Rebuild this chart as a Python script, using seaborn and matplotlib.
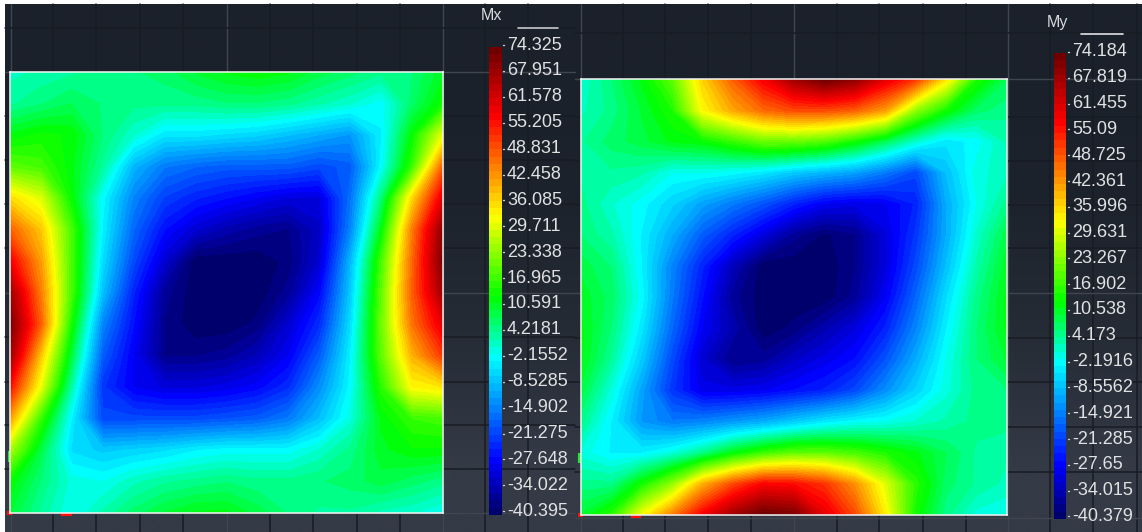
import numpy as np
import matplotlib
matplotlib.use('Agg')
import matplotlib.pyplot as plt
from matplotlib.colors import BoundaryNorm, LinearSegmentedColormap
import seaborn as sns

mx_labels = ['74.325', '67.951', '61.578', '55.205', '48.831', '42.458', '36.085', '29.711', '23.338', '16.965',
             '10.591', '4.2181', '-2.1552', '-8.5285', '-14.902', '-21.275', '-27.648', '-34.022', '-40.395']
my_labels = ['74.184', '67.819', '61.455', '55.09', '48.725', '42.361', '35.996', '29.631', '23.267', '16.902',
             '10.538', '4.173', '-2.1916', '-8.5562', '-14.921', '-21.285', '-27.65', '-34.015', '-40.379']

# field values, rows from top to bottom
mx_values = [
    [2, 3, 4, 5, 6, 7, 10, 12, 13, 12, 9, 7, 5, 6, 11],
    [4, 6, 8, 6, 5, 5, 5, 6, 6, 5, 3, 1, -2, 7, 14],
    [12, 14, 13, 6, 1, -4, -4, -5, -6, -8, -10, -12, -3, 13, 31],
    [20, 18, 12, 4, -9, -15, -17, -18, -18, -18, -20, -18, -2, 17, 48],
    [36, 30, 13, -2, -14, -21, -24, -26, -28, -30, -30, -16, 6, 36, 60],
    [48, 38, 18, -3, -17, -26, -31, -34, -36, -37, -32, -14, 12, 45, 70],
    [58, 42, 18, -5, -20, -31, -40, -40, -40, -38, -31, -9, 18, 47, 72],
    [68, 45, 18, -8, -24, -36, -40, -40, -40, -36, -27, -7, 20, 48, 68],
    [72, 48, 14, -14, -26, -37, -40, -40, -38, -31, -23, -5, 21, 46, 60],
    [68, 38, 9, -18, -28, -37, -37, -36, -33, -28, -18, -3, 20, 40, 52],
    [56, 31, 3, -22, -28, -30, -30, -29, -27, -23, -13, -2, 16, 33, 35],
    [42, 17, -3, -20, -20, -20, -20, -19, -18, -15, -8, 0, 12, 17, 18],
    [26, 9, -5, -7, -6, -5, -3, -2, -2, -2, 1, 5, 11, 13, 13],
    [13, 6, 0, -1, 2, 4, 5, 6, 5, 5, 6, 7, 9, 7, 5],
    [10, 4, -1, 3, 7, 10, 12, 12, 9, 6, 4, 4, 2, 1, -1],
]
my_values = [
    [1, 6, 12, 20, 37, 48, 58, 68, 74, 70, 60, 52, 35, 15, 8],
    [2, 5, 10, 15, 33, 41, 47, 50, 50, 48, 42, 24, 14, 7, 5],
    [4, 7, 9, 12, 13, 17, 21, 21, 19, 14, 8, 1, -4, -2, 3],
    [4, 4, 3, -1, -1, -2, -4, -7, -9, -11, -15, -20, -8, 0, 2],
    [5, 1, -2, -6, -11, -15, -19, -24, -28, -29, -28, -24, -10, -1, 5],
    [6, 3, -3, -10, -18, -24, -30, -36, -39, -37, -30, -22, -10, 1, 9],
    [9, 6, -3, -14, -24, -33, -40, -40, -40, -37, -30, -20, -8, 3, 11],
    [11, 7, -2, -15, -26, -36, -40, -40, -40, -36, -28, -17, -5, 5, 12],
    [12, 6, -4, -17, -28, -34, -40, -38, -34, -30, -24, -14, -3, 6, 12],
    [12, 4, -7, -20, -31, -37, -36, -32, -29, -26, -19, -10, -1, 6, 10],
    [9, 0, -11, -22, -29, -29, -28, -26, -24, -20, -13, -6, 0, 5, 6],
    [5, -3, -12, -15, -14, -12, -10, -7, -4, -2, -1, 1, 3, 5, 5],
    [0, -3, -3, 0, 5, 12, 17, 20, 20, 18, 15, 12, 8, 4, 3],
    [5, 5, 14, 24, 40, 50, 57, 56, 52, 43, 30, 16, 7, 4, 2],
    [10, 16, 32, 45, 58, 68, 74, 72, 60, 50, 34, 14, 5, 0, -1],
]

W, H = 1142, 532
N_BANDS = 64
sns.set_theme(style='white')
plt.rcParams['font.family'] = ['Liberation Sans', 'DejaVu Sans']
cmap = LinearSegmentedColormap.from_list('viewer', [
    (0.0, '#00006c'), (0.11, '#0000ff'), (0.335, '#00ffff'), (0.465, '#00ff00'),
    (0.64, '#ffff00'), (0.855, '#ff0000'), (1.0, '#700000')]).resampled(N_BANDS)


def px_axes(fig, x0, y0, x1, y1):
    # axes from picture pixels (y measured from the top)
    return fig.add_axes([x0 / W, 1 - y1 / H, (x1 - x0) / W, (y1 - y0) / H])


def draw_field(fig, values, box, vmin, vmax):
    ax = px_axes(fig, *box)
    levels = np.linspace(vmin, vmax, N_BANDS + 1)
    arr = np.array(values)[::-1]
    ax.contourf(arr, levels=levels, cmap=cmap, norm=BoundaryNorm(levels, N_BANDS), extend='both')
    ax.set_xticks([])
    ax.set_yticks([])
    for s in ax.spines.values():
        s.set_color('#f4f4f4')
        s.set_linewidth(1.1)
    return ax


def draw_bar(fig, box, vmin, vmax):
    ax = px_axes(fig, *box)
    strip = np.linspace(vmax, vmin, N_BANDS).reshape(-1, 1)
    sns.heatmap(strip, ax=ax, cmap=cmap, vmin=vmin, vmax=vmax, cbar=False, xticklabels=False, yticklabels=False)
    return ax


fig = plt.figure(figsize=(W / 100, H / 100), dpi=100, facecolor='white')

bg = fig.add_axes([0, 0, 1, 1])
shade = np.array([[0x1b, 0x21, 0x2b], [0x1d, 0x23, 0x2d], [0x26, 0x2c, 0x36], [0x34, 0x3a, 0x46]]) / 255
bg.imshow(shade[:, None, :], extent=[5, W, H, 4], aspect='auto', interpolation='bilinear', zorder=0)
bg.set_xlim(0, W)
bg.set_ylim(H, 0)
bg.axis('off')

# dark minor grid and the few lighter major lines of the viewer
for x in [53, 96, 140, 183, 270, 313, 357, 400, 485, 528, 623, 665, 708, 751, 837, 879, 923, 966, 1050, 1093, 1137]:
    bg.plot([x, x], [4, H], color='#171c24', lw=1.1, zorder=1)
for x in [11, 227, 443, 581, 794, 1008]:
    bg.plot([x, x], [4, H], color='#40464f', lw=1, zorder=1)
for y in [28, 116, 160, 204, 248, 337, 382, 425, 469]:
    bg.plot([5, 575], [y, y], color='#171c24', lw=1.1, zorder=1)
for y in [33, 117, 161, 205, 248, 338, 382, 427, 472]:
    bg.plot([575, W], [y, y], color='#171c24', lw=1.1, zorder=1)
for y in [72, 293, 513]:
    bg.plot([5, 575], [y, y], color='#40464f', lw=1, zorder=1)
for y in [79, 293, 518]:
    bg.plot([575, W], [y, y], color='#40464f', lw=1, zorder=1)

draw_field(fig, mx_values, (10, 72, 443, 513), -40.395, 74.325)
draw_field(fig, my_values, (581, 79, 1007, 515), -40.379, 74.184)
draw_bar(fig, (489, 47, 502, 515), -40.395, 74.325)
draw_bar(fig, (1054, 53, 1066, 519), -40.379, 74.184)

for labels, lx, y0, dy in [(mx_labels, 507, 45, 25.9), (my_labels, 1072, 52, 25.8)]:
    for i, lab in enumerate(labels):
        bg.text(lx, y0 + i * dy, lab, color='#dfe1e3', fontsize=13, va='center', ha='left', zorder=5)
        bg.plot([lx - 4, lx - 3], [y0 + i * dy] * 2, color='#d0d0d0', lw=1, zorder=5)

bg.text(481, 15, 'Mx', color='#d8dadc', fontsize=11.5, va='center', ha='left')
bg.text(1047, 22, 'My', color='#d8dadc', fontsize=11.5, va='center', ha='left')
bg.plot([518, 558], [28, 28], color='#c8cacc', lw=1.2)
bg.plot([1081, 1123], [34, 34], color='#e0e2e4', lw=1.2)

# small axis markers at the corners
for xs, ys, c in [((7, 12), (513, 513), '#ff1010'), ((61, 72), (514, 514), '#ff1010'),
                  ((578, 583), (515, 515), '#ff1010'), ((631, 641), (516, 516), '#ff1010')]:
    bg.plot(xs, ys, color=c, lw=3, solid_capstyle='butt', zorder=1.5)
for xs, ys, c in [((9.5, 9.5), (451, 462), '#20e830'), ((580, 580), (453, 463), '#20e830')]:
    bg.plot(xs, ys, color=c, lw=3, solid_capstyle='butt', zorder=1.5)

fig.savefig('out.png', dpi=100)
